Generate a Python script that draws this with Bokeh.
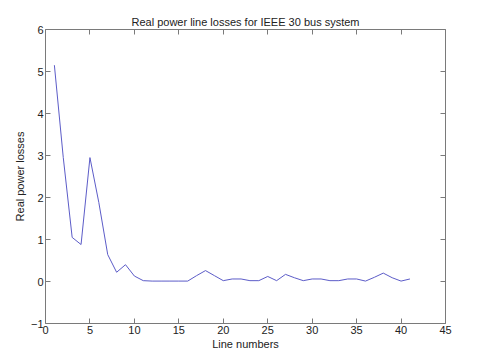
from bokeh.plotting import figure
from bokeh.models import Range1d, FixedTicker, LinearAxis, CustomJSTickFormatter
from bokeh.embed import file_html
from bokeh.resources import INLINE

line_numbers = list(range(1, 42))
losses = [5.15, 2.95, 1.05, 0.88, 2.95, 1.88, 0.64, 0.22, 0.40, 0.13,
          0.02, 0.01, 0.01, 0.01, 0.01, 0.01, 0.14, 0.26, 0.14, 0.02,
          0.06, 0.06, 0.02, 0.02, 0.12, 0.02, 0.17, 0.09, 0.02, 0.06,
          0.06, 0.02, 0.02, 0.06, 0.06, 0.01, 0.10, 0.20, 0.09, 0.01,
          0.06]
x_ticks = [0, 5, 10, 15, 20, 25, 30, 35, 40, 45]
y_ticks = [-1, 0, 1, 2, 3, 4, 5, 6]

FONT = "Liberation Sans"

p = figure(width=476, height=354, output_backend="svg", toolbar_location=None,
           x_range=Range1d(0, 45), y_range=Range1d(-1, 6),
           title="Real power line losses for IEEE 30 bus system",
           min_border_left=45, min_border_right=31, min_border_top=29, min_border_bottom=31)

p.title.align = "center"
p.title.text_font = FONT
p.title.text_font_size = "11px"
p.title.text_font_style = "normal"
p.title.text_color = "#222222"
p.title.standoff = 4

p.line(line_numbers, losses, line_color="#5c5cc8", line_width=1)

p.grid.visible = False
p.outline_line_color = None

def style(ax, labels=True):
    ax.major_tick_in = 5
    ax.major_tick_out = 0
    ax.minor_tick_in = 0
    ax.minor_tick_out = 0
    ax.axis_line_color = "#7a7a7a"
    ax.major_tick_line_color = "#7a7a7a"
    ax.major_label_text_font = FONT
    ax.major_label_text_font_size = "11px" if labels else "0px"
    ax.major_label_text_color = "#222222"
    ax.major_label_standoff = 2
    ax.axis_label_text_font = FONT
    ax.axis_label_text_font_size = "11px"
    ax.axis_label_text_font_style = "normal"
    ax.axis_label_text_color = "#222222"
    ax.axis_label_standoff = 1

p.xaxis.ticker = FixedTicker(ticks=x_ticks)
p.yaxis.ticker = FixedTicker(ticks=y_ticks)
p.xaxis.axis_label = "Line numbers"
p.yaxis.axis_label = "Real power losses"
style(p.xaxis[0])
style(p.yaxis[0])
p.yaxis.axis_label_standoff = 2

blank = CustomJSTickFormatter(code="return ''")
top = LinearAxis(ticker=FixedTicker(ticks=x_ticks), formatter=blank)
right = LinearAxis(ticker=FixedTicker(ticks=y_ticks), formatter=blank)
style(top, labels=False)
style(right, labels=False)
top.major_label_standoff = 0
right.major_label_standoff = 0
p.add_layout(top, "above")
p.add_layout(right, "right")

open("out.html", "w").write(file_html(p, INLINE))
